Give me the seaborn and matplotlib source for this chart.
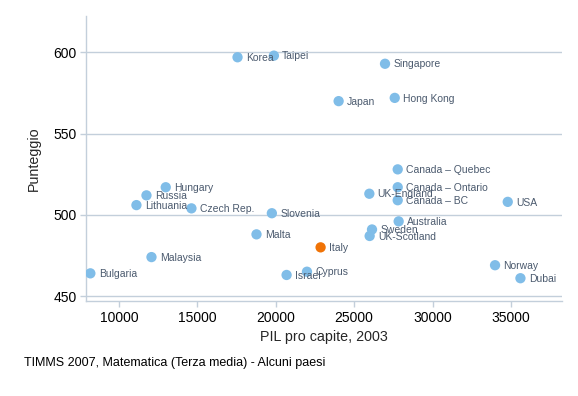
import seaborn as sns
import pandas as pd
import matplotlib
import matplotlib.pyplot as plt

matplotlib.use('Agg')

countries = ['Korea', 'Taipei', 'Singapore', 'Japan', 'Hong Kong',
             'Canada – Quebec', 'Canada – Ontario', 'UK-England', 'Canada – BC',
             'USA', 'Australia', 'Sweden', 'UK-Scotland', 'Italy', 'Cyprus',
             'Israel', 'Norway', 'Dubai', 'Slovenia', 'Malta', 'Hungary',
             'Russia', 'Lithuania', 'Czech Rep.', 'Malaysia', 'Bulgaria']
pil = [17560, 19880, 26970, 24010, 27590,
       27780, 27780, 25970, 27780,
       34800, 27840, 26140, 25990, 22860, 21990,
       20690, 33990, 35610, 19750, 18770, 12980,
       11750, 11110, 14620, 12070, 8170]
score = [597, 598, 593, 570, 572,
         528, 517, 513, 509,
         508, 496, 491, 487, 480, 465,
         463, 469, 461, 501, 488, 517,
         512, 506, 504, 474, 464]
highlight = 'Italy'

sns.set_theme(style="ticks")
plt.rcParams['font.family'] = ['Liberation Sans', 'DejaVu Sans']

grid_col = '#c3cfdb'
text_col = '#4b5a6e'

df = pd.DataFrame({'Paese': countries, 'PIL': pil, 'Punteggio': score})
df['Gruppo'] = ['it' if c == highlight else 'altri' for c in df['Paese']]

fig = plt.figure(figsize=(5.78, 3.96), dpi=100)
ax = fig.add_axes([0.149, 0.240, 0.823, 0.720])

sns.scatterplot(data=df, x='PIL', y='Punteggio', hue='Gruppo',
                palette={'altri': '#80bde8', 'it': '#f07306'},
                s=55, edgecolor='none', legend=False, ax=ax, zorder=3)

for name, x, y in zip(countries, pil, score):
    ax.annotate(name, (x, y), xytext=(6, -0.5), textcoords='offset points',
                va='center', ha='left', fontsize=7.5, color=text_col, zorder=4)

ax.set_xlim(7900, 38250)
ax.set_ylim(447, 622.5)
ax.set_xticks([10000, 15000, 20000, 25000, 30000, 35000])
ax.set_yticks([450, 500, 550, 600])
ax.yaxis.grid(True, color=grid_col, linewidth=1)
ax.set_axisbelow(True)

sns.despine(ax=ax, top=True, right=True)
for side in ['left', 'bottom']:
    ax.spines[side].set_color(grid_col)
    ax.spines[side].set_linewidth(1)
ax.tick_params(axis='both', colors=grid_col, labelcolor='black',
               labelsize=10, length=4, width=1, pad=3)

ax.set_xlabel('PIL pro capite, 2003', fontsize=10.3, labelpad=4)
ax.set_ylabel('Punteggio', fontsize=10.3, labelpad=9)

fig.text(0.041, 0.076, 'TIMMS 2007, Matematica (Terza media) - Alcuni paesi',
         fontsize=9, color='black')

fig.savefig('out.png', dpi=100)
